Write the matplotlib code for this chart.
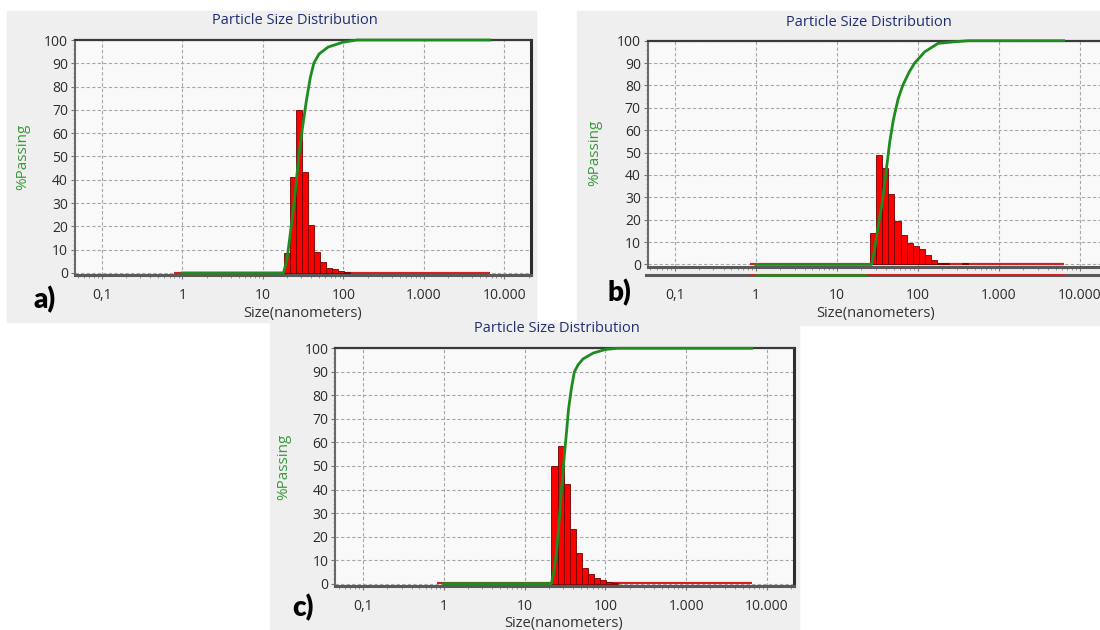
import matplotlib
matplotlib.use("Agg")
import matplotlib.pyplot as plt
from matplotlib.patches import Rectangle
from matplotlib.transforms import blended_transform_factory
import numpy as np

W, H = 1100, 630

# size channels (nm), lower/upper edges of the histogram bars
size_edges = [18.1, 21.5, 25.6, 30.5, 36.2, 43.1, 51.3, 61.0, 72.5, 86.2,
              102.6, 122.0, 145.1, 172.5, 205.2, 244.0, 290.2, 345.2, 410.5]

# channel percentages for each sample
pct_a = [8.5, 41.0, 70.0, 43.5, 20.5, 8.9, 4.5, 2.2, 1.5, 0.7, 0.4, 0, 0, 0, 0, 0, 0, 0]
pct_b = [0, 0, 14.0, 48.7, 43.2, 31.3, 19.5, 13.0, 9.6, 8.2, 7.0, 4.4, 2.1, 0.6, 0.5, 0, 0, 0.5]
pct_c = [0, 50.2, 58.3, 42.2, 23.3, 13.0, 6.7, 3.9, 2.2, 1.7, 0.6, 0.4, 0, 0, 0, 0, 0, 0]

# cumulative %passing curves
cum_size_a = [1.0, 18.1, 20, 22, 25, 28, 31, 34.8, 39, 43, 50, 65, 98, 147, 6600]
cum_pct_a = [0, 0, 6, 17, 33, 50, 62, 74, 84, 90, 94, 97, 99, 100, 100]
cum_size_b = [1.0, 26.7, 29, 32, 36, 40, 45, 50, 57, 65, 78, 91, 121, 177, 300, 420, 6300]
cum_pct_b = [0, 0, 6, 16, 27, 40, 55, 65, 74, 80, 86, 90, 95, 98.8, 99.6, 100, 100]
cum_size_c = [1.0, 21.5, 23, 25, 27, 29, 31, 33, 35, 38, 41.4, 46, 53, 71, 100, 141, 6460]
cum_pct_c = [0, 0, 5, 14, 28, 42, 54, 64, 74, 83, 90, 93, 95.5, 98, 99.5, 100, 100]

# red baseline span (nm)
base_a = [0.8, 6600]
base_b = [0.85, 6300]
base_c = [0.82, 6460]

xticks = [0.1, 1, 10, 100, 1000, 10000]
xticklabels = ["0,1", "1", "10", "100", "1.000", "10.000"]
yticks = list(range(0, 101, 10))

FONT = "Open Sans"
RED = "#ff0000"
BASE_RED = "#d02222"
GREEN = "#1e8c1e"

fig = plt.figure(figsize=(W / 100, H / 100), dpi=100)
fig.patch.set_facecolor("white")


def ptext(x, y, s, **kw):
    kw.setdefault("ha", "center")
    kw.setdefault("va", "center")
    kw.setdefault("family", FONT)
    fig.text(x / W, 1 - y / H, s, **kw)


def bg(l, t, r, b, color="#efefef"):
    fig.patches.append(Rectangle((l / W, 1 - b / H), (r - l) / W, (b - t) / H,
                                 transform=fig.transFigure, color=color, zorder=-5))


def panel(l, t, r, b, xlim, pct, cum_x, cum_y, base, pad):
    ax = fig.add_axes([l / W, 1 - b / H, (r - l) / W, (b - t) / H])
    ax.set_facecolor("#f9f9f9")
    ax.set_xscale("log")
    ax.set_xlim(10 ** xlim[0], 10 ** xlim[1])
    ax.set_ylim(-1.0, 100)

    edges = np.array(size_edges)
    h = np.array(pct)
    keep = h > 0
    ax.bar(edges[:-1][keep], h[keep], width=np.diff(edges)[keep], align="edge",
           color=RED, edgecolor="#6e0000", linewidth=0.6, zorder=3)
    ax.plot(base, [0.2, 0.2], color=BASE_RED, lw=1.6, zorder=2, clip_on=False,
            solid_capstyle="butt")
    ax.plot(cum_x, cum_y, color=GREEN, lw=2, zorder=4, clip_on=False)

    ax.set_xticks(xticks)
    ax.set_xticklabels(xticklabels)
    ax.xaxis.set_minor_locator(matplotlib.ticker.LogLocator(base=10, subs=np.arange(2, 10)))
    ax.xaxis.set_minor_formatter(matplotlib.ticker.NullFormatter())
    ax.set_yticks(yticks)
    ax.yaxis.set_minor_locator(matplotlib.ticker.MultipleLocator(2))
    ax.tick_params(axis="x", which="major", length=3, pad=pad, labelsize=10,
                   labelcolor="#2b2b2b", color="#777")
    ax.tick_params(axis="x", which="minor", length=2.5, color="#888")
    ax.tick_params(axis="y", which="major", length=3, pad=2, labelsize=10,
                   labelcolor="#2b2b2b", color="#777")
    ax.tick_params(axis="y", which="minor", length=1.5, color="#999")
    for lab in ax.get_xticklabels() + ax.get_yticklabels():
        lab.set_family(FONT)

    ax.grid(True, which="major", color="#a8a8a8", linestyle=(0, (3, 2)), lw=0.8)
    ax.set_axisbelow(True)
    ax.spines["top"].set_color("#3a3a3a")
    ax.spines["top"].set_linewidth(1.6)
    ax.spines["right"].set_color("#2e2e2e")
    ax.spines["right"].set_linewidth(2.2)
    ax.spines["bottom"].set_color("#5a5a5a")
    ax.spines["bottom"].set_linewidth(2.2)
    ax.spines["left"].set_color("#6a6a6a")
    ax.spines["left"].set_linewidth(1.5)
    return ax


# panel backgrounds
bg(7, 11, 536, 322)
bg(577, 11, 1100, 325)
bg(270, 323, 799, 630)

# a)
ax_a = panel(75, 40, 531, 275.3, (-1.333, 4.332), pct_a, cum_size_a, cum_pct_a, base_a, 6)
ptext(294.6, 20, "Particle Size Distribution", color="#1f2f72", fontsize=10.5)
ptext(23, 157, "%Passing", color="#3a9a3a", fontsize=11, rotation=90)
ptext(302.7, 313, "Size(nanometers)", color="#333333", fontsize=10.5)
ptext(45, 300, "a)", family="Lato", weight="heavy", fontsize=20, color="black")

# b)
ax_b = panel(647.8, 40.7, 1110, 266.7, (-1.333, 4.37), pct_b, cum_size_b, cum_pct_b, base_b, 12)
ptext(869, 22, "Particle Size Distribution", color="#1f2f72", fontsize=10.5)
ptext(595, 153, "%Passing", color="#3a9a3a", fontsize=11, rotation=90)
ptext(876, 313, "Size(nanometers)", color="#333333", fontsize=10.5)
ptext(619, 293, "b)", family="Lato", weight="heavy", fontsize=20, color="black")
# duplicated baseline strip under panel b
tr = blended_transform_factory(ax_b.transData, fig.transFigure)
yline = 1 - 275.3 / H
ax_b.plot([10 ** -1.35, 10 ** 4.4], [yline, yline], transform=tr, color="#5a5a5a",
          lw=2.2, clip_on=False)
ax_b.plot(base_b, [yline, yline], transform=tr, color=BASE_RED, lw=1.4, clip_on=False)
ax_b.plot([1.0, 22], [yline, yline], transform=tr, color=GREEN, lw=1.8, clip_on=False)

# c)
ax_c = panel(335.4, 348.3, 794, 586, (-1.341, 4.335), pct_c, cum_size_c, cum_pct_c, base_c, 6)
ptext(556.5, 329, "Particle Size Distribution", color="#1f2f72", fontsize=10.5)
ptext(284, 467, "%Passing", color="#3a9a3a", fontsize=11, rotation=90)
ptext(564, 623, "Size(nanometers)", color="#333333", fontsize=10.5)
ptext(303, 608, "c)", family="Lato", weight="heavy", fontsize=20, color="black")

fig.savefig("out.png", dpi=100)
